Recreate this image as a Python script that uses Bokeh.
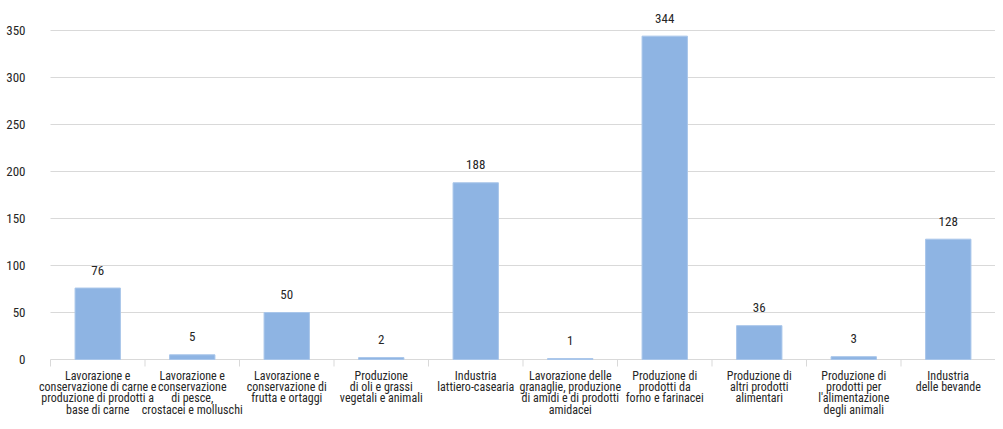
from bokeh.plotting import figure
from bokeh.models import FixedTicker, Range1d, ColumnDataSource
from bokeh.core.properties import value
from bokeh.embed import file_html
from bokeh.resources import INLINE

categories = [
    "Lavorazione e\nconservazione di carne e\nproduzione di prodotti a\nbase di carne",
    "Lavorazione e\nconservazione\ndi pesce,\ncrostacei e molluschi",
    "Lavorazione e\nconservazione di\nfrutta e ortaggi",
    "Produzione\ndi oli e grassi\nvegetali e animali",
    "Industria\nlattiero-casearia",
    "Lavorazione delle\ngranaglie, produzione\ndi amidi e di prodotti\namidacei",
    "Produzione di\nprodotti da\nforno e farinacei",
    "Produzione di\naltri prodotti\nalimentari",
    "Produzione di\nprodotti per\nl'alimentazione\ndegli animali",
    "Industria\ndelle bevande",
]
values = [76, 5, 50, 2, 188, 1, 344, 36, 3, 128]
y_ticks = [0, 50, 100, 150, 200, 250, 300, 350]

FONT = "Liberation Sans Narrow, Roboto Condensed, DejaVu Sans Condensed, sans-serif"

W, H = 995, 421
FRAME_LEFT = 34        # frame starts a bit left so the first label is not clipped
PLOT_LEFT = 50         # where the category area starts
AXIS_PX = 359          # pixel row of the zero line
PX_PER_UNIT = 47 / 50  # pixels per value unit
y_lo = -(H - AXIS_PX) / PX_PER_UNIT
y_hi = AXIS_PX / PX_PER_UNIT

n = len(categories)
cat_px = (W - PLOT_LEFT) / n
x_lo = -(PLOT_LEFT - FRAME_LEFT) / cat_px
xs = [i + 0.5 for i in range(n)]
bounds = list(range(n + 1))
src = ColumnDataSource(dict(x=xs, top=values, label=[str(v) for v in values],
                            cat=categories, zero=[0] * n))

p = figure(width=W, height=H, output_backend="svg", toolbar_location=None,
           x_range=Range1d(x_lo, n), y_range=Range1d(y_lo, y_hi),
           x_axis_location=None,
           min_border_left=FRAME_LEFT, min_border_right=0, min_border_top=0, min_border_bottom=0)
p.outline_line_color = None
p.background_fill_color = "white"
p.border_fill_color = "white"

# y axis
p.yaxis.ticker = FixedTicker(ticks=y_ticks)
p.yaxis.axis_line_color = None
p.yaxis.major_tick_line_color = None
p.yaxis.minor_tick_line_color = None
p.yaxis.major_label_standoff = 3
p.yaxis.major_label_text_font = FONT
p.yaxis.major_label_text_font_size = "13px"
p.yaxis.major_label_text_color = "#262626"
p.ygrid.grid_line_color = None
p.xgrid.grid_line_color = None

# horizontal grid lines over the category area
grid_y = y_ticks[1:]
p.segment(x0=[0] * len(grid_y), y0=grid_y, x1=[n] * len(grid_y), y1=grid_y,
          line_color="#D9D9D9", line_width=1)

# category baseline with boundary ticks
tick_len = 7 / PX_PER_UNIT
p.segment(x0=0, y0=0, x1=n, y1=0, line_color="#D9D9D9", line_width=1)
p.segment(x0=bounds, y0=[0] * len(bounds), x1=bounds, y1=[-tick_len] * len(bounds),
          line_color="#D9D9D9", line_width=1)

p.vbar(x="x", top="top", width=0.48, bottom=0, source=src,
       fill_color="#8EB4E3", line_color="#A9C6EA", line_width=1)
p.text(x="x", y="top", text="label", source=src, text_align="center",
       text_baseline="alphabetic", y_offset=-18, text_font=value(FONT),
       text_font_size="13px", text_color="#262626")

# category labels
p.text(x="x", y="zero", text="cat", source=src, text_align="center",
       text_baseline="top", y_offset=9, text_font=value(FONT),
       text_font_size="12px", text_line_height=0.82, text_color="#262626")

open("out.html", "w").write(file_html(p, INLINE))
